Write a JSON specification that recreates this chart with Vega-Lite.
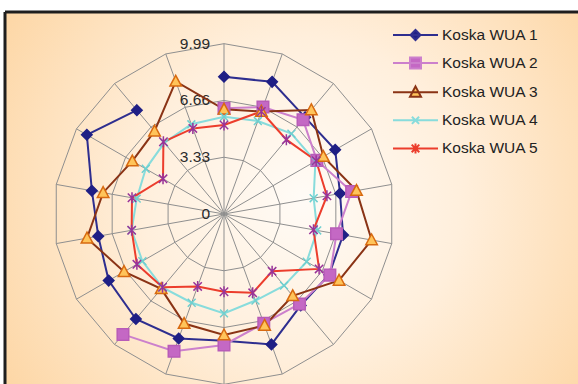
{
  "$schema": "https://vega.github.io/schema/vega-lite/v6.json",
  "width": 573,
  "height": 372,
  "padding": {"left": 5, "top": 12, "right": 0, "bottom": 0},
  "autosize": {"type": "none"},
  "background": "#ffffff",
  "config": {"font": "Liberation Sans"},
  "view": {"stroke": "#1e1e1e", "strokeWidth": 3, "strokeDash": [573, 945, 372, 0],
    "fill": {"gradient": "radial", "x1": 0.52, "y1": 0.5, "x2": 0.52, "y2": 0.5, "r1": 0, "r2": 0.62,
      "stops": [{"offset": 0, "color": "#fffbf6"}, {"offset": 0.45, "color": "#ffefdc"}, {"offset": 1, "color": "#fdd6a4"}]}},
  "datasets": {
    "pts": [
      {"s": "Koska WUA 1", "k": 0, "v": 8.05}, {"s": "Koska WUA 1", "k": 1, "v": 8.25}, {"s": "Koska WUA 1", "k": 2, "v": 7.4}, {"s": "Koska WUA 1", "k": 3, "v": 7.53}, {"s": "Koska WUA 1", "k": 4, "v": 6.91}, {"s": "Koska WUA 1", "k": 5, "v": 7.09}, {"s": "Koska WUA 1", "k": 6, "v": 7.12}, {"s": "Koska WUA 1", "k": 7, "v": 7.0}, {"s": "Koska WUA 1", "k": 8, "v": 8.14}, {"s": "Koska WUA 1", "k": 9, "v": 7.43}, {"s": "Koska WUA 1", "k": 10, "v": 7.77}, {"s": "Koska WUA 1", "k": 11, "v": 8.04}, {"s": "Koska WUA 1", "k": 12, "v": 7.81}, {"s": "Koska WUA 1", "k": 13, "v": 7.49}, {"s": "Koska WUA 1", "k": 14, "v": 7.87}, {"s": "Koska WUA 1", "k": 15, "v": 9.29}, {"s": "Koska WUA 1", "k": 16, "v": 7.95},
      {"s": "Koska WUA 2", "k": 0, "v": 6.2}, {"s": "Koska WUA 2", "k": 1, "v": 6.68}, {"s": "Koska WUA 2", "k": 2, "v": 7.21}, {"s": "Koska WUA 2", "k": 3, "v": 6.29}, {"s": "Koska WUA 2", "k": 4, "v": 7.6}, {"s": "Koska WUA 2", "k": 5, "v": 6.7}, {"s": "Koska WUA 2", "k": 6, "v": 7.17}, {"s": "Koska WUA 2", "k": 7, "v": 6.89}, {"s": "Koska WUA 2", "k": 8, "v": 6.82}, {"s": "Koska WUA 2", "k": 9, "v": 7.68}, {"s": "Koska WUA 2", "k": 10, "v": 8.57}, {"s": "Koska WUA 2", "k": 11, "v": 9.22},
      {"s": "Koska WUA 3", "k": 0, "v": 6.14}, {"s": "Koska WUA 3", "k": 1, "v": 6.4}, {"s": "Koska WUA 3", "k": 2, "v": 7.97}, {"s": "Koska WUA 3", "k": 3, "v": 6.73}, {"s": "Koska WUA 3", "k": 4, "v": 7.89}, {"s": "Koska WUA 3", "k": 5, "v": 8.79}, {"s": "Koska WUA 3", "k": 6, "v": 7.79}, {"s": "Koska WUA 3", "k": 7, "v": 6.27}, {"s": "Koska WUA 3", "k": 8, "v": 6.96}, {"s": "Koska WUA 3", "k": 9, "v": 7.1}, {"s": "Koska WUA 3", "k": 10, "v": 6.84}, {"s": "Koska WUA 3", "k": 11, "v": 5.73}, {"s": "Koska WUA 3", "k": 12, "v": 6.77}, {"s": "Koska WUA 3", "k": 13, "v": 8.16}, {"s": "Koska WUA 3", "k": 14, "v": 7.2}, {"s": "Koska WUA 3", "k": 15, "v": 6.21}, {"s": "Koska WUA 3", "k": 16, "v": 6.34}, {"s": "Koska WUA 3", "k": 17, "v": 8.28},
      {"s": "Koska WUA 4", "k": 0, "v": 5.7}, {"s": "Koska WUA 4", "k": 1, "v": 5.8}, {"s": "Koska WUA 4", "k": 2, "v": 6.15}, {"s": "Koska WUA 4", "k": 3, "v": 6.19}, {"s": "Koska WUA 4", "k": 4, "v": 5.34}, {"s": "Koska WUA 4", "k": 5, "v": 5.55}, {"s": "Koska WUA 4", "k": 6, "v": 5.6}, {"s": "Koska WUA 4", "k": 7, "v": 5.48}, {"s": "Koska WUA 4", "k": 8, "v": 5.4}, {"s": "Koska WUA 4", "k": 9, "v": 5.83}, {"s": "Koska WUA 4", "k": 10, "v": 5.54}, {"s": "Koska WUA 4", "k": 11, "v": 5.62}, {"s": "Koska WUA 4", "k": 12, "v": 5.53}, {"s": "Koska WUA 4", "k": 13, "v": 5.5}, {"s": "Koska WUA 4", "k": 14, "v": 5.2}, {"s": "Koska WUA 4", "k": 15, "v": 5.3}, {"s": "Koska WUA 4", "k": 16, "v": 5.45}, {"s": "Koska WUA 4", "k": 17, "v": 5.6},
      {"s": "Koska WUA 5", "k": 0, "v": 5.22}, {"s": "Koska WUA 5", "k": 1, "v": 6.4}, {"s": "Koska WUA 5", "k": 2, "v": 5.69}, {"s": "Koska WUA 5", "k": 3, "v": 6.24}, {"s": "Koska WUA 5", "k": 4, "v": 6.13}, {"s": "Koska WUA 5", "k": 5, "v": 5.33}, {"s": "Koska WUA 5", "k": 6, "v": 6.44}, {"s": "Koska WUA 5", "k": 7, "v": 4.39}, {"s": "Koska WUA 5", "k": 8, "v": 4.92}, {"s": "Koska WUA 5", "k": 9, "v": 4.56}, {"s": "Koska WUA 5", "k": 10, "v": 4.52}, {"s": "Koska WUA 5", "k": 11, "v": 5.61}, {"s": "Koska WUA 5", "k": 12, "v": 5.9}, {"s": "Koska WUA 5", "k": 13, "v": 5.5}, {"s": "Koska WUA 5", "k": 14, "v": 5.48}, {"s": "Koska WUA 5", "k": 15, "v": 4.13}, {"s": "Koska WUA 5", "k": 16, "v": 5.53}, {"s": "Koska WUA 5", "k": 17, "v": 5.34}
    ],
    "grid": [
      {"r": 3.33, "k": [0,1,2,3,4,5,6,7,8,9,10,11,12,13,14,15,16,17]},
      {"r": 6.66, "k": [0,1,2,3,4,5,6,7,8,9,10,11,12,13,14,15,16,17]},
      {"r": 9.99, "k": [0,1,2,3,4,5,6,7,8,9,10,11,12,13,14,15,16,17]}
    ],
    "ticks": [{"t": "0", "r": 0}, {"t": "3.33", "r": 3.33}, {"t": "6.66", "r": 6.66}, {"t": "9.99", "r": 9.99}],
    "names": [{"s": "Koska WUA 1"}, {"s": "Koska WUA 2"}, {"s": "Koska WUA 3"}, {"s": "Koska WUA 4"}, {"s": "Koska WUA 5"}]
  },
  "layer": [
    {
      "data": {"name": "grid"},
      "transform": [
        {"filter": "datum.r == 9.99"},
        {"flatten": ["k"]},
        {"calculate": "datum.r * sin(datum.k * PI / 9)", "as": "x"},
        {"calculate": "datum.r * cos(datum.k * PI / 9)", "as": "y"}
      ],
      "mark": {"type": "rule", "color": "#8f8f8f", "strokeWidth": 1},
      "encoding": {
        "x": {"field": "x", "type": "quantitative", "scale": {"domain": [-12.845, 20.762], "nice": false, "zero": false}, "axis": null},
        "y": {"field": "y", "type": "quantitative", "scale": {"domain": [-9.971, 11.848], "nice": false, "zero": false}, "axis": null},
        "x2": {"datum": 0},
        "y2": {"datum": 0}
      }
    },
    {
      "data": {"name": "grid"},
      "transform": [
        {"flatten": ["k"]},
        {"calculate": "datum.r * sin(datum.k * PI / 9)", "as": "x"},
        {"calculate": "datum.r * cos(datum.k * PI / 9)", "as": "y"}
      ],
      "mark": {"type": "line", "color": "#8f8f8f", "strokeWidth": 1, "interpolate": "linear-closed"},
      "encoding": {
        "x": {"field": "x", "type": "quantitative", "scale": {"domain": [-12.845, 20.762], "nice": false, "zero": false}, "axis": null},
        "y": {"field": "y", "type": "quantitative", "scale": {"domain": [-9.971, 11.848], "nice": false, "zero": false}, "axis": null},
        "detail": {"field": "r", "type": "nominal"},
        "order": {"field": "k", "type": "quantitative"}
      }
    },
    {
      "data": {"name": "ticks"},
      "mark": {"type": "text", "align": "right", "baseline": "middle", "dx": -14, "fontSize": 15.5, "color": "#2a2a2a", "font": "Liberation Sans"},
      "encoding": {
        "x": {"datum": 0, "type": "quantitative", "scale": {"domain": [-12.845, 20.762], "nice": false, "zero": false}, "axis": null},
        "y": {"field": "r", "type": "quantitative", "scale": {"domain": [-9.971, 11.848], "nice": false, "zero": false}, "axis": null},
        "text": {"field": "t"}
      }
    },
    {
      "data": {"name": "pts"},
      "transform": [
        {"filter": {"field": "s", "oneOf": ["Koska WUA 1", "Koska WUA 2"]}},
        {"calculate": "datum.v * sin(datum.k * PI / 9)", "as": "x"},
        {"calculate": "datum.v * cos(datum.k * PI / 9)", "as": "y"}
      ],
      "mark": {"type": "line", "strokeWidth": 2, "interpolate": "linear"},
      "encoding": {
        "x": {"field": "x", "type": "quantitative", "scale": {"domain": [-12.845, 20.762], "nice": false, "zero": false}, "axis": null},
        "y": {"field": "y", "type": "quantitative", "scale": {"domain": [-9.971, 11.848], "nice": false, "zero": false}, "axis": null},
        "color": {"field": "s", "type": "nominal", "scale": {"domain": ["Koska WUA 1", "Koska WUA 2", "Koska WUA 3", "Koska WUA 4", "Koska WUA 5"], "range": ["#2e2e8f", "#cc80cc", "#8a3315", "#88dcdc", "#ec3d2c"]}, "legend": null},
        "order": {"field": "k", "type": "quantitative"}
      }
    },
    {
      "data": {"name": "pts"},
      "transform": [
        {"filter": {"field": "s", "oneOf": ["Koska WUA 3", "Koska WUA 4", "Koska WUA 5"]}},
        {"calculate": "datum.v * sin(datum.k * PI / 9)", "as": "x"},
        {"calculate": "datum.v * cos(datum.k * PI / 9)", "as": "y"}
      ],
      "mark": {"type": "line", "strokeWidth": 2, "interpolate": "linear-closed"},
      "encoding": {
        "x": {"field": "x", "type": "quantitative", "scale": {"domain": [-12.845, 20.762], "nice": false, "zero": false}, "axis": null},
        "y": {"field": "y", "type": "quantitative", "scale": {"domain": [-9.971, 11.848], "nice": false, "zero": false}, "axis": null},
        "color": {"field": "s", "type": "nominal", "scale": {"domain": ["Koska WUA 1", "Koska WUA 2", "Koska WUA 3", "Koska WUA 4", "Koska WUA 5"], "range": ["#2e2e8f", "#cc80cc", "#8a3315", "#88dcdc", "#ec3d2c"]}, "legend": null},
        "order": {"field": "k", "type": "quantitative"}
      }
    },
    {
      "data": {"name": "pts"},
      "transform": [
        {"calculate": "datum.v * sin(datum.k * PI / 9)", "as": "x"},
        {"calculate": "datum.v * cos(datum.k * PI / 9)", "as": "y"}
      ],
      "mark": {"type": "point", "filled": true, "size": 110, "strokeWidth": 1.5, "opacity": 1},
      "encoding": {
        "x": {"field": "x", "type": "quantitative", "scale": {"domain": [-12.845, 20.762], "nice": false, "zero": false}, "axis": null},
        "y": {"field": "y", "type": "quantitative", "scale": {"domain": [-9.971, 11.848], "nice": false, "zero": false}, "axis": null},
        "shape": {"field": "s", "type": "nominal", "legend": null, "scale": {"domain": ["Koska WUA 1", "Koska WUA 2", "Koska WUA 3", "Koska WUA 4", "Koska WUA 5"],
          "range": ["M0,-1L1,0L0,1L-1,0Z", "M-1.1,-1.1H1.1V1.1H-1.1Z", "M0,-1.15L1.1,0.9L-1.1,0.9Z", "M-0.75,-0.75L0.75,0.75M-0.75,0.75L0.75,-0.75", "M-0.8,-0.8L0.8,0.8M-0.8,0.8L0.8,-0.8M0,-1.05L0,1.05"]}},
        "fill": {"field": "s", "type": "nominal", "legend": null, "scale": {"domain": ["Koska WUA 1", "Koska WUA 2", "Koska WUA 3", "Koska WUA 4", "Koska WUA 5"], "range": ["#1f1f85", "#c468c4", "#ffc45a", "#7fd8d8", "#993399"]}},
        "stroke": {"field": "s", "type": "nominal", "legend": null, "scale": {"domain": ["Koska WUA 1", "Koska WUA 2", "Koska WUA 3", "Koska WUA 4", "Koska WUA 5"], "range": ["#1f1f85", "#b85cb8", "#d86a10", "#6fcfcf", "#993399"]}}
      }
    },
    {
      "data": {"name": "names"},
      "transform": [{"filter": "false"}],
      "mark": {"type": "point", "filled": true, "strokeWidth": 2, "opacity": 1},
      "encoding": {
        "shape": {"field": "s", "type": "nominal",
          "scale": {"domain": ["Koska WUA 1", "Koska WUA 2", "Koska WUA 3", "Koska WUA 4", "Koska WUA 5"],
            "range": ["M-2.25,0H2.25M0,-0.5L0.5,0L0,0.5L-0.5,0Z", "M-2.25,0H2.25M-0.55,-0.55H0.55V0.55H-0.55Z", "M-2.25,0H2.25M0,-0.58L0.55,0.45L-0.55,0.45Z", "M-2.25,0H2.25M-0.36,-0.36L0.36,0.36M-0.36,0.36L0.36,-0.36", "M-2.25,0H2.25M-0.38,-0.38L0.38,0.38M-0.38,0.38L0.38,-0.38M0,-0.5L0,0.5"]},
          "legend": {"title": null, "orient": "none", "legendX": 399.5, "legendY": 12, "padding": 0, "symbolSize": 400, "symbolStrokeWidth": 2, "labelFontSize": 15.5, "labelFont": "Liberation Sans", "labelColor": "#222222", "labelOffset": 15.5, "rowPadding": 8.1}},
        "fill": {"field": "s", "type": "nominal",
          "scale": {"domain": ["Koska WUA 1", "Koska WUA 2", "Koska WUA 3", "Koska WUA 4", "Koska WUA 5"], "range": ["#1f1f85", "#c468c4", "#ffc45a", "#7fd8d8", "#993399"]},
          "legend": {"title": null, "orient": "none", "legendX": 399.5, "legendY": 12, "padding": 0, "symbolSize": 400, "symbolStrokeWidth": 2, "labelFontSize": 15.5, "labelFont": "Liberation Sans", "labelColor": "#222222", "labelOffset": 15.5, "rowPadding": 8.1}},
        "stroke": {"field": "s", "type": "nominal",
          "scale": {"domain": ["Koska WUA 1", "Koska WUA 2", "Koska WUA 3", "Koska WUA 4", "Koska WUA 5"], "range": ["#2e2e8f", "#cc80cc", "#8a3315", "#88dcdc", "#ec3d2c"]},
          "legend": {"title": null, "orient": "none", "legendX": 399.5, "legendY": 12, "padding": 0, "symbolSize": 400, "symbolStrokeWidth": 2, "labelFontSize": 15.5, "labelFont": "Liberation Sans", "labelColor": "#222222", "labelOffset": 15.5, "rowPadding": 8.1}}
      }
    }
  ],
  "resolve": {"scale": {"shape": "independent", "fill": "independent", "stroke": "independent"}}
}
